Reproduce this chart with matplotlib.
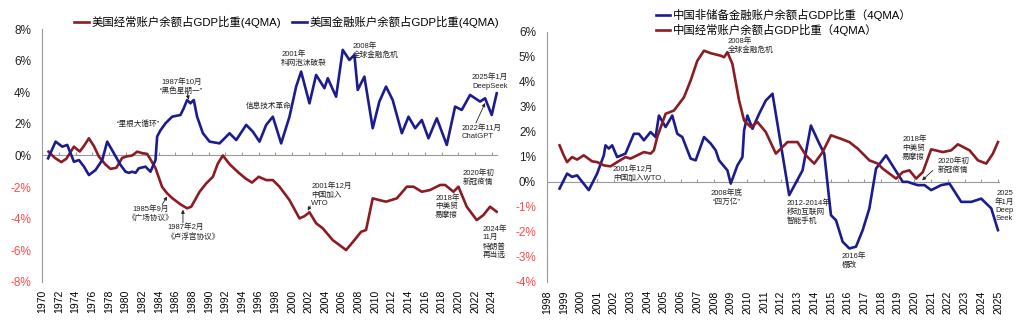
import matplotlib
matplotlib.use("Agg")
import matplotlib.pyplot as plt

plt.rcParams['font.family'] = ['Liberation Sans', 'Noto Sans CJK SC', 'DejaVu Sans']
plt.rcParams['axes.unicode_minus'] = False

RED = '#8c1c24'
BLUE = '#1c1c8e'
NEG = '#ff4a4a'
GRAY = '#9a9a9a'

# ---- left chart: US, 4QMA, % of GDP ----
us_ca_years = [1970.75, 1971.5, 1972.3, 1972.9, 1973.8, 1974.5, 1975.0, 1975.6, 1976.2, 1976.8,
               1977.6, 1978.2, 1978.9, 1979.6, 1980.2, 1980.8, 1981.4, 1982.0, 1982.6, 1983.0,
               1983.6, 1984.4, 1985.0, 1985.6, 1986.6, 1987.4, 1987.9, 1988.9, 1989.7, 1990.5,
               1991.1, 1991.7, 1992.5, 1993.5, 1994.4, 1995.2, 1996.0, 1996.9, 1997.7, 1998.5,
               1999.7, 2000.9, 2001.5, 2002.1, 2002.9, 2003.7, 2004.9, 2005.7, 2006.5, 2007.5,
               2008.3, 2008.9, 2009.7, 2010.5, 2011.3, 2012.6, 2013.8, 2014.6, 2015.6, 2016.6,
               2017.8, 2018.4, 2019.4, 2020.0, 2021.0, 2022.2, 2023.0, 2023.8, 2024.6]
us_ca = [0.24, -0.15, -0.42, -0.2, 0.56, 0.25, 0.6, 1.09, 0.6, -0.07,
         -0.58, -0.85, -0.78, -0.15, -0.05, 0.0, 0.24, 0.15, 0.1, -0.25,
         -0.8, -2.0, -2.4, -2.7, -3.1, -3.35, -3.25, -2.3, -1.77, -1.35,
         -0.5, 0.0, -0.55, -1.05, -1.45, -1.72, -1.35, -1.56, -1.56, -1.98,
         -2.83, -3.99, -3.85, -3.6, -4.3, -4.62, -5.37, -5.68, -6.0, -5.37,
         -4.84, -4.73, -2.72, -2.83, -2.93, -2.72, -1.98, -1.98, -2.3, -2.19,
         -1.87, -1.87, -2.3, -1.98, -3.25, -4.1, -3.78, -3.25, -3.57]

us_fa_years = [1970.7, 1971.6, 1972.4, 1973.0, 1973.8, 1974.4, 1975.0, 1975.6, 1976.4, 1977.2,
               1977.8, 1978.6, 1979.4, 1980.0, 1980.4, 1980.8, 1981.2, 1981.6, 1982.4, 1983.0,
               1983.6, 1983.8, 1984.2, 1984.8, 1985.6, 1986.6, 1987.0, 1987.4, 1987.8, 1988.2,
               1988.6, 1989.3, 1990.1, 1991.3, 1992.5, 1993.3, 1994.5, 1995.3, 1996.1, 1996.9,
               1997.7, 1998.7, 1999.7, 2000.5, 2001.1, 2002.1, 2002.9, 2003.9, 2004.3, 2005.3,
               2006.1, 2006.9, 2007.5, 2007.9, 2008.7, 2009.7, 2010.5, 2011.3, 2012.1, 2013.2,
               2014.0, 2014.8, 2015.6, 2016.4, 2017.4, 2018.6, 2019.6, 2020.4, 2021.4, 2022.6,
               2023.2, 2024.0, 2024.6]
us_fa = [-0.18, 0.88, 0.56, 0.67, -0.4, -0.29, -0.7, -1.24, -0.92, -0.29,
         0.88, 0.14, -0.6, -1.03, -1.1, -1.03, -1.1, -0.81, -0.71, -1.03,
         -0.29, 1.2, 1.6, 2.04, 2.46, 2.57, 3.0, 3.52, 3.31, 3.52,
         2.46, 1.41, 0.88, 0.77, 1.41, 0.98, 1.94, 1.51, 0.88, 1.94,
         2.46, 0.77, 2.46, 4.37, 5.32, 3.31, 5.11, 4.27, 4.9, 3.73,
         6.7, 6.06, 6.38, 4.16, 5.0, 1.73, 3.42, 4.37, 3.52, 1.41,
         2.46, 1.73, 2.25, 1.09, 2.36, 0.67, 3.1, 2.89, 3.84, 3.42,
         3.63, 2.57, 3.95]

# ---- right chart: China, 4QMA, % of GDP ----
cn_ca_years = [1998.75, 1999.0, 1999.2, 1999.5, 1999.8, 2000.2, 2000.7, 2001.0, 2001.4, 2001.8,
               2002.2, 2002.7, 2003.0, 2003.4, 2003.8, 2004.2, 2004.4, 2004.6, 2005.1, 2005.6,
               2006.2, 2006.6, 2007.0, 2007.4, 2007.8, 2008.4, 2008.6, 2008.8, 2009.1, 2009.5,
               2009.8, 2010.2, 2010.6, 2011.1, 2011.7, 2012.4, 2013.0, 2013.5, 2014.0, 2014.5,
               2015.0, 2015.6, 2016.1, 2016.6, 2016.9, 2017.3, 2017.8, 2018.1, 2018.9, 2019.3,
               2019.7, 2020.1, 2020.5, 2021.0, 2021.7, 2022.2, 2022.6, 2023.3, 2023.8, 2024.3,
               2024.7, 2025.0]
cn_ca = [1.46, 1.06, 0.79, 0.99, 0.89, 1.06, 0.82, 0.79, 0.66, 0.62,
         0.79, 0.99, 0.93, 1.06, 1.19, 1.13, 1.26, 1.79, 2.72, 2.85,
         3.38, 4.05, 4.84, 5.24, 5.14, 5.04, 4.98, 5.18, 4.71, 3.25,
         2.45, 2.19, 2.39, 1.99, 1.13, 1.59, 1.59, 1.06, 0.73, 1.19,
         1.86, 1.72, 1.59, 1.33, 1.13, 0.86, 0.73, 0.53, 0.13, 0.39,
         0.46, 0.13, 0.39, 1.3, 1.19, 1.26, 1.5, 1.26, 0.86, 0.73,
         1.13, 1.59]

cn_fa_years = [1998.75, 1999.2, 1999.5, 1999.8, 2000.5, 2001.0, 2001.4, 2001.5, 2001.7, 2001.9,
               2002.2, 2002.7, 2003.2, 2003.5, 2003.8, 2004.2, 2004.5, 2004.7, 2005.1, 2005.5,
               2005.8, 2006.1, 2006.6, 2006.9, 2007.4, 2007.8, 2008.1, 2008.3, 2008.8, 2009.0,
               2009.4, 2009.7, 2009.8, 2010.0, 2010.3, 2010.7, 2011.1, 2011.5, 2012.5, 2013.3,
               2013.8, 2014.3, 2014.6, 2015.0, 2015.3, 2015.7, 2016.1, 2016.5, 2016.9, 2017.3,
               2017.7, 2018.3, 2018.8, 2019.3, 2019.6, 2019.9, 2020.2, 2020.6, 2021.0, 2021.6,
               2022.1, 2022.8, 2023.4, 2024.0, 2024.6, 2025.0]
cn_fa = [-0.27, 0.33, 0.2, 0.26, -0.33, 0.33, 1.06, 1.46, 1.33, 1.46,
         0.99, 1.13, 1.92, 1.92, 1.66, 1.99, 1.79, 2.65, 2.19, 2.65,
         1.92, 1.79, 0.93, 0.86, 1.79, 1.53, 1.26, 0.86, 0.46, -0.07,
         0.66, 0.99, 2.06, 2.65, 2.12, 2.72, 3.25, 3.52, -0.53, 0.46,
         2.25, 1.53, 1.13, -1.33, -1.53, -2.39, -2.66, -2.59, -1.93, -1.06,
         0.53, 1.06, 0.53, 0.0, 0.0, -0.07, -0.13, -0.13, -0.33, -0.13,
         -0.07, -0.8, -0.8, -0.67, -1.06, -1.93]

left_xticks = list(range(1970, 2025, 2))
right_xticks = list(range(1998, 2026))
left_yticks = [-8, -6, -4, -2, 0, 2, 4, 6, 8]
right_yticks = [-4, -3, -2, -1, 0, 1, 2, 3, 4, 5, 6]

us_labels = ['美国经常账户余额占GDP比重(4QMA)', '美国金融账户余额占GDP比重(4QMA)']
cn_labels = ['中国非储备金融账户余额占GDP比重（4QMA）', '中国经常账户余额占GDP比重（4QMA）']

# text, x, y, ha, arrow-from, arrow-to
left_notes = [
    ('1987年10月\n“黑色星期一”', 1986.7, 4.37, 'center', (1987.4, 3.95), (1987.6, 3.55)),
    ('“里根大循环”', 1981.5, 1.96, 'center', None, None),
    ('2001年\n科网泡沫破裂', 1998.7, 6.15, 'left', None, None),
    ('2008年\n全球金融危机', 2007.3, 6.65, 'left', None, None),
    ('信息技术革命', 1994.5, 3.1, 'left', None, None),
    ('2025年1月\nDeepSeek', 2026.0, 4.69, 'right', None, None),
    ('2022年11月\nChatGPT', 2020.4, 1.48, 'left', (2022.1, 2.06), (2023.2, 3.33)),
    ('1985年9月\n《广场协议》', 1983.0, -3.66, 'center', (1984.4, -3.12), (1985.0, -2.6)),
    ('1987年2月\n《卢浮宫协议》', 1985.0, -4.87, 'left', (1986.9, -4.27), (1986.9, -3.44)),
    ('2001年12月\n中国加入\nWTO', 2002.3, -2.49, 'left', (2002.2, -3.2), (2001.9, -3.5)),
    ('2018年\n中美贸\n易摩擦', 2017.2, -3.25, 'left', None, None),
    ('2020年初\n新冠疫情', 2020.5, -1.41, 'left', None, None),
    ('2024年\n11月\n特朗普\n再当选', 2022.9, -5.5, 'left', None, None),
]
right_notes = [
    ('2008年\n全球金融危机', 2008.84, 5.44, 'left', None, None),
    ('2001年12月\n中国加入WTO', 2001.95, 0.34, 'left', None, None),
    ('2008年底\n“四万亿”', 2008.78, -0.61, 'center', None, None),
    ('2012-2014年\n移动互联网\n智能手机', 2012.37, -1.21, 'left', None, None),
    ('2016年\n棚改', 2015.66, -3.16, 'left', None, None),
    ('2018年\n中美贸\n易摩擦', 2019.26, 1.34, 'left', None, None),
    ('2020年初\n新冠疫情', 2021.41, 0.64, 'left', (2021.1, 0.46), (2020.46, 0.06)),
    ('2025\n年1月\nDeep\nSeek', 2025.4, -0.97, 'center', None, None),
]


def style_axis(ax, xticks, yticks, xlim, ylim, tick_h):
    ax.set_xlim(*xlim)
    ax.set_ylim(*ylim)
    for s in ['top', 'right', 'bottom']:
        ax.spines[s].set_visible(False)
    ax.spines['left'].set_color(GRAY)
    ax.spines['left'].set_linewidth(0.8)
    ax.axhline(0, color=GRAY, lw=0.8, zorder=1)
    ax.vlines(xticks, 0, tick_h, color=GRAY, lw=0.8, zorder=1)
    ax.set_xticks(xticks)
    ax.set_xticklabels([str(x) for x in xticks], rotation=90, fontsize=7.5)
    ax.tick_params(axis='x', length=0, pad=6)
    ax.set_yticks(yticks)
    ax.set_yticklabels([f'{v}%' for v in yticks], fontsize=8.5)
    ax.tick_params(axis='y', length=0, pad=8)
    for lab, v in zip(ax.get_yticklabels(), yticks):
        lab.set_color(NEG if v < 0 else '#222222')


def add_notes(ax, notes):
    for text, x, y, ha, a_from, a_to in notes:
        ax.text(x, y, text, ha=ha, va='center', fontsize=5.5, color='#222222',
                linespacing=1.25, zorder=5)
        if a_from is not None:
            ax.annotate('', xy=a_to, xytext=a_from,
                        arrowprops=dict(arrowstyle='-|>', color='#222222', lw=0.6,
                                        mutation_scale=5, shrinkA=0, shrinkB=0))


fig = plt.figure(figsize=(10.24, 3.29), dpi=100)
ax1 = fig.add_axes([0.0413, 0.1441, 0.4454, 0.7666])
ax2 = fig.add_axes([0.5342, 0.1429, 0.4420, 0.7608])

ax1.plot(us_ca_years, us_ca, color=RED, lw=1.9, label=us_labels[0], zorder=3)
ax1.plot(us_fa_years, us_fa, color=BLUE, lw=1.9, label=us_labels[1], zorder=3)
style_axis(ax1, left_xticks, left_yticks, (1970, 2024.8), (-8, 8), 0.2)
add_notes(ax1, left_notes)
ax1.legend(loc='center left', bbox_to_anchor=(0.07, 1.028), ncol=2, frameon=False,
           fontsize=8.2, handlelength=1.3, handletextpad=0.2, columnspacing=1.0,
           borderaxespad=0, borderpad=0)

ax2.plot(cn_fa_years, cn_fa, color=BLUE, lw=1.9, label=cn_labels[0], zorder=3)
ax2.plot(cn_ca_years, cn_ca, color=RED, lw=1.9, label=cn_labels[1], zorder=3)
style_axis(ax2, right_xticks, right_yticks, (1998, 2025.1), (-4, 6), 0.12)
add_notes(ax2, right_notes)
ax2.legend(loc='center left', bbox_to_anchor=(0.24, 1.037), ncol=1, frameon=False,
           fontsize=8.2, handlelength=1.3, handletextpad=0.2, labelspacing=0.3,
           borderaxespad=0, borderpad=0)

fig.savefig('out.png', dpi=100)
